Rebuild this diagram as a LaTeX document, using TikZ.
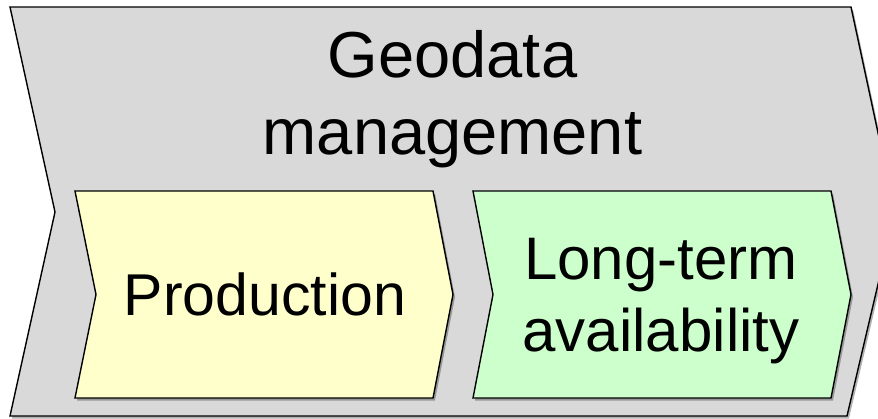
\documentclass[tikz,border=0pt]{standalone}
\usepackage{fontspec}
\setmainfont{Liberation Sans}
\usetikzlibrary{shadows}
\definecolor{outerfill}{HTML}{D9D9D9}
\definecolor{prodfill}{HTML}{FFFFCC}
\definecolor{availfill}{HTML}{CCFFCC}
\tikzset{
  chev/.style={draw=black, line width=1.4pt, line join=miter,
    drop shadow={shadow xshift=2pt, shadow yshift=-2.5pt, opacity=0.3, fill=black}},
  lbl/.style={inner sep=0pt, align=center, text=black}
}
\begin{document}
\begin{tikzpicture}[x=1pt,y=-1pt]
\useasboundingbox (0,0) rectangle (878,418);
\fill[white] (0,0) rectangle (878,418);
% outer chevron
\draw[chev, fill=outerfill] (10,7) -- (851,7) -- (895,212) -- (847,416) -- (10,416) -- (55,212) -- cycle;
% production chevron
\draw[chev, fill=prodfill] (75,191) -- (433,191) -- (453,294.5) -- (433,398) -- (75,398) -- (96,294.5) -- cycle;
% long-term chevron
\draw[chev, fill=availfill] (473,191) -- (831,191) -- (851,294.5) -- (831,398) -- (473,398) -- (493,294.5) -- cycle;
\node[lbl, font=\fontsize{65}{77}\selectfont] (geo) at (452.5,99) {Geodata\\management};
\node[lbl, font=\fontsize{59}{72}\selectfont] (prod) at (265,294) {Production};
\node[lbl, font=\fontsize{60}{72}\selectfont] (avail) at (661,301) {Long-term\\availability};
\end{tikzpicture}
\end{document}
